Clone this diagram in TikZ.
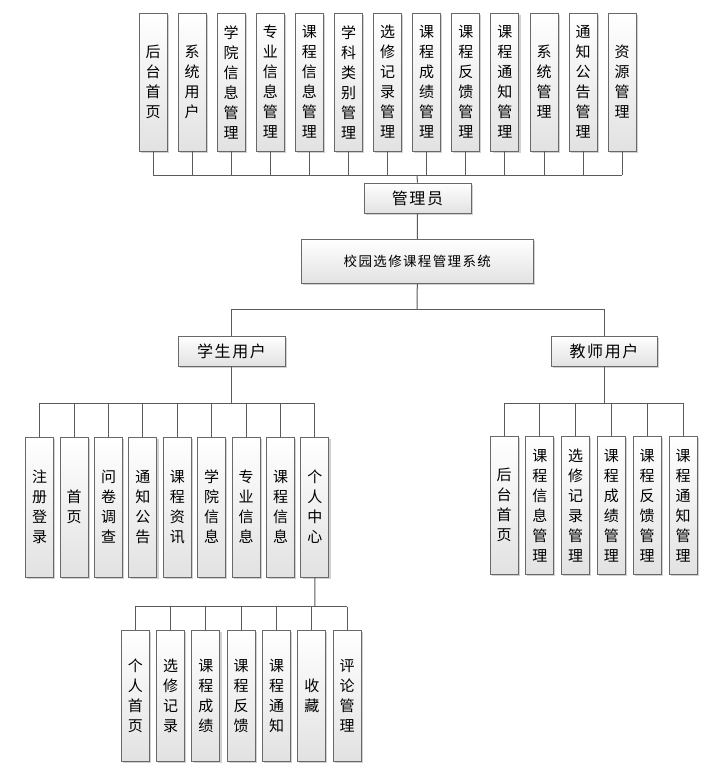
\documentclass[tikz,border=0pt]{standalone}
\usepackage{fontspec}
\newfontfamily\cjk{Noto Sans CJK SC}
\newfontfamily\cjkls[LetterSpace=10]{Noto Sans CJK SC}
\usetikzlibrary{shadows}
\definecolor{boxline}{RGB}{105,105,105}
\definecolor{boxbot}{RGB}{226,226,226}
\definecolor{linecol}{RGB}{90,90,90}
\begin{document}
\begin{tikzpicture}[x=1pt,y=-1pt,
  box/.style={draw=boxline, line width=0.9pt, top color=white, bottom color=boxbot,
    drop shadow={shadow xshift=1.6pt, shadow yshift=-1.6pt, fill=black!40, opacity=0.45},
    inner sep=0pt, align=center},
  vbox/.style={box, minimum width=28pt, font=\cjk\fontsize{15}{20}\selectfont},
  hbox/.style={box, minimum height=30pt, font=\cjkls\fontsize{16}{18}\selectfont},
  link/.style={draw=linecol, line width=1pt}]
\fill[white] (0,0) rectangle (719,784);
\useasboundingbox (0,0) rectangle (719,784);

% top row (administrator functions)
\foreach \t [count=\i] in {{后\\台\\首\\页},{系\\统\\用\\户},{学\\院\\信\\息\\管\\理},{专\\业\\信\\息\\管\\理},
  {课\\程\\信\\息\\管\\理},{学\\科\\类\\别\\管\\理},{选\\修\\记\\录\\管\\理},{课\\程\\成\\绩\\管\\理},
  {课\\程\\反\\馈\\管\\理},{课\\程\\通\\知\\管\\理},{系\\统\\管\\理},{通\\知\\公\\告\\管\\理},{资\\源\\管\\理}}
  \node[vbox, minimum height=138pt] (a\i) at ({153+39.1*(\i-1)},82) {\t};

\node[hbox, minimum width=107pt] (adm) at (417.5,198) {管理员};
\node[box, minimum width=232pt, minimum height=44pt, font=\cjkls\fontsize{13.5}{16}\selectfont] (sys) at (417.3,261.3) {校园选修课程管理系统};
\node[hbox, minimum width=107pt] (stu) at (231.5,351) {学生用户};
\node[hbox, minimum width=106pt] (tea) at (604,351) {教师用户};

% student functions
\foreach \t [count=\i] in {{注\\册\\登\\录},{首\\页},{问\\卷\\调\\查},{通\\知\\公\\告},{课\\程\\资\\讯},
  {学\\院\\信\\息},{专\\业\\信\\息},{课\\程\\信\\息},{个\\人\\中\\心}}
  \node[vbox, minimum height=140pt] (s\i) at ({39.7+34.4*(\i-1)},507) {\t};

% personal center functions
\foreach \t [count=\i] in {{个\\人\\首\\页},{选\\修\\记\\录},{课\\程\\成\\绩},{课\\程\\反\\馈},
  {课\\程\\通\\知},{收\\藏},{评\\论\\管\\理}}
  \node[vbox, minimum height=131pt] (p\i) at ({135.3+35.3*(\i-1)},695.5) {\t};

% teacher functions
\foreach \t [count=\i] in {{后\\台\\首\\页},{课\\程\\信\\息\\管\\理},{选\\修\\记\\录\\管\\理},
  {课\\程\\成\\绩\\管\\理},{课\\程\\反\\馈\\管\\理},{课\\程\\通\\知\\管\\理}}
  \node[vbox, minimum height=138.5pt] (t\i) at ({504+35.8*(\i-1)},505.2) {\t};

% connectors: top
\coordinate (tb) at (417,175);
\foreach \i in {1,...,13} \draw[link] (a\i.south) -- (a\i.south |- tb);
\draw[link] (a1.south |- tb) -- (a13.south |- tb);
\draw[link] (tb) -- (adm.north);
\draw[link] (adm.south) -- (sys.north);
\coordinate (sb) at (417,309.3);
\draw[link] (sys.south) -- (sb);
\draw[link] (stu.north) |- (sb) -| (tea.north);

% student bus
\coordinate (stb) at (231.5,403.3);
\draw[link] (stu.south) -- (stb);
\foreach \i in {1,...,9} \draw[link] (s\i.north) -- (s\i.north |- stb);
\draw[link] (s1.north |- stb) -- (s9.north |- stb);

% teacher bus
\coordinate (ttb) at (604,403.3);
\draw[link] (tea.south) -- (ttb);
\foreach \i in {1,...,6} \draw[link] (t\i.north) -- (t\i.north |- ttb);
\draw[link] (t1.north |- ttb) -- (t6.north |- ttb);

% personal center bus
\coordinate (pb) at (314.9,606.7);
\draw[link] (s9.south) -- (pb);
\foreach \i in {1,...,7} \draw[link] (p\i.north) -- (p\i.north |- pb);
\draw[link] (p1.north |- pb) -- (p7.north |- pb);
\end{tikzpicture}
\end{document}
